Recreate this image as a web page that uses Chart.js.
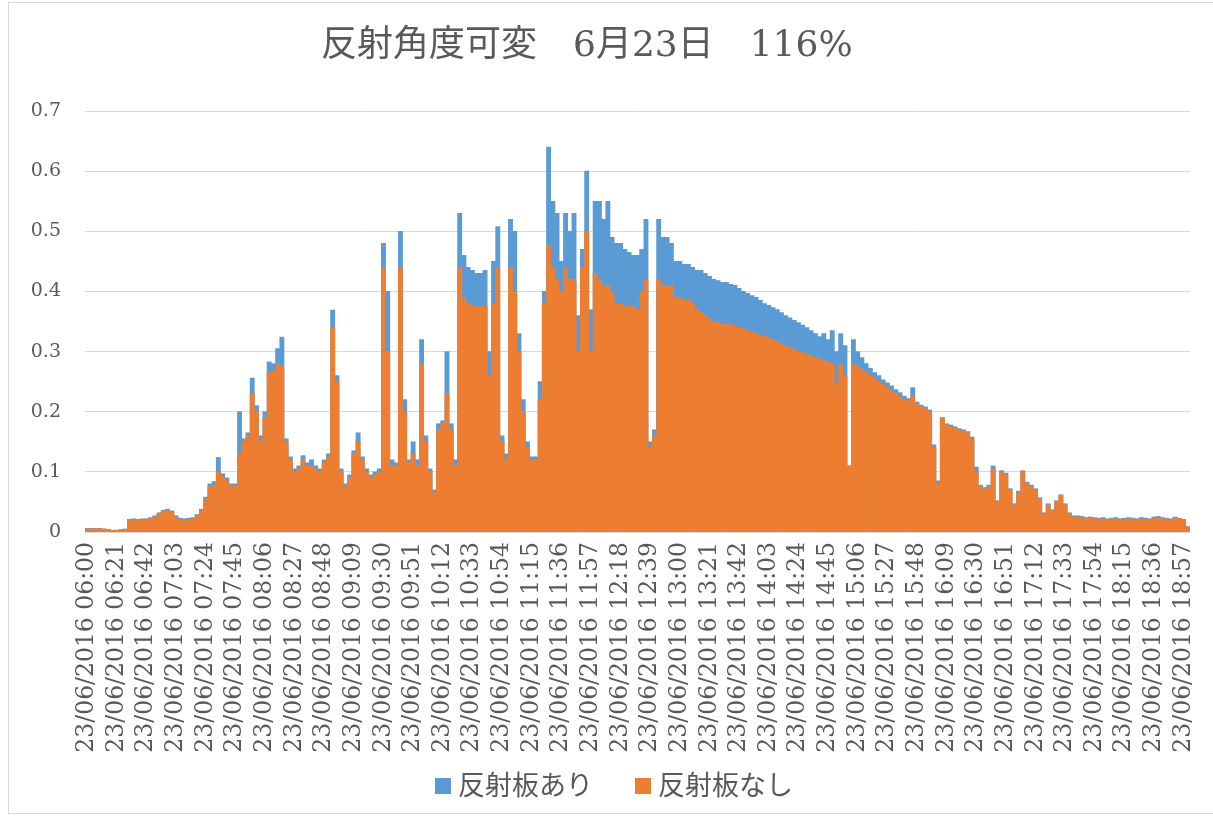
<!DOCTYPE html>
<html lang="ja">
  <head>
    <meta charset="UTF-8" />
    <title>反射角度可変 6月23日</title>
    <script src="https://cdn.jsdelivr.net/npm/chart.js@4"></script>
    <style>
      body {
        margin: 0;
        background: #fff;
        overflow: hidden;
      }
      .wrap {
        position: relative;
        width: 1213px;
        height: 819px;
      }
      .frame {
        position: absolute;
        left: 8px;
        top: 2px;
        width: 1220px;
        height: 812px;
        border: 1px solid #d9d9d9;
        box-sizing: border-box;
      }
      .title {
        position: absolute;
        left: 321px;
        top: 26px;
        font-family: "DejaVu Serif", "Noto Sans CJK JP", serif;
        font-size: 36px;
        line-height: 36px;
        color: #595959;
        white-space: pre;
      }
      .legend {
        position: absolute;
        left: 435px;
        top: 769px;
        display: flex;
        align-items: center;
        font-family: "Noto Sans CJK JP", sans-serif;
        font-size: 27px;
        line-height: 30px;
        color: #595959;
      }
      .legend .item {
        display: flex;
        align-items: center;
        margin-right: 42px;
      }
      .legend .swatch {
        display: inline-block;
        width: 16px;
        height: 16px;
        margin-right: 7px;
        margin-top: 3px;
      }
      canvas {
        position: absolute;
        left: 0;
        top: 0;
      }
    </style>
  </head>
  <body>
    <div class="wrap">
      <div class="frame"></div>
      <canvas id="reflectChart" width="1213" height="819"></canvas>
      <div class="title">反射角度可変　6月23日　116%</div>
      <div class="legend" id="legend"></div>
    </div>

    <script>
      // 3-minute samples from 06:00 to 19:00
      const dateLabel = "23/06/2016";
      const startMinute = 6 * 60;
      const stepMinutes = 3;
      const tickEvery = 7; // a time label every 21 minutes

      // 反射板あり (with reflector)
      const withReflector = [
        0.006, 0.006, 0.006, 0.006, 0.005, 0.004, 0.003, 0.003, 0.004, 0.005, // 06:00
        0.021, 0.022, 0.021, 0.022, 0.022, 0.024, 0.027, 0.032, 0.036, 0.038, // 06:30
        0.035, 0.027, 0.023, 0.022, 0.023, 0.024, 0.029, 0.038, 0.058, 0.080, // 07:00
        0.084, 0.124, 0.097, 0.090, 0.080, 0.080, 0.200, 0.155, 0.165, 0.256, // 07:30
        0.210, 0.160, 0.200, 0.283, 0.280, 0.305, 0.324, 0.155, 0.125, 0.105, // 08:00
        0.110, 0.127, 0.115, 0.120, 0.110, 0.105, 0.120, 0.130, 0.369, 0.260, // 08:30
        0.105, 0.080, 0.095, 0.135, 0.165, 0.125, 0.105, 0.095, 0.100, 0.105, // 09:00
        0.480, 0.400, 0.120, 0.115, 0.500, 0.220, 0.120, 0.150, 0.120, 0.320, // 09:30
        0.160, 0.105, 0.070, 0.180, 0.185, 0.300, 0.180, 0.120, 0.530, 0.460, // 10:00
        0.440, 0.435, 0.430, 0.430, 0.435, 0.300, 0.450, 0.508, 0.160, 0.130, // 10:30
        0.520, 0.500, 0.330, 0.220, 0.150, 0.125, 0.125, 0.250, 0.400, 0.640, // 11:00
        0.550, 0.530, 0.450, 0.530, 0.500, 0.530, 0.360, 0.470, 0.600, 0.370, // 11:30
        0.550, 0.550, 0.520, 0.550, 0.490, 0.480, 0.480, 0.470, 0.465, 0.460, // 12:00
        0.460, 0.470, 0.520, 0.150, 0.170, 0.520, 0.490, 0.490, 0.480, 0.450, // 12:30
        0.450, 0.445, 0.445, 0.440, 0.435, 0.435, 0.430, 0.425, 0.420, 0.418, // 13:00
        0.415, 0.415, 0.412, 0.410, 0.405, 0.400, 0.397, 0.393, 0.390, 0.385, // 13:30
        0.380, 0.377, 0.373, 0.370, 0.365, 0.360, 0.356, 0.352, 0.348, 0.344, // 14:00
        0.340, 0.335, 0.330, 0.325, 0.330, 0.320, 0.335, 0.300, 0.330, 0.310, // 14:30
        0.110, 0.320, 0.300, 0.290, 0.280, 0.272, 0.265, 0.260, 0.253, 0.248, // 15:00
        0.243, 0.237, 0.232, 0.226, 0.222, 0.240, 0.216, 0.211, 0.208, 0.203, // 15:30
        0.145, 0.085, 0.190, 0.180, 0.178, 0.175, 0.172, 0.170, 0.167, 0.158, // 16:00
        0.108, 0.078, 0.074, 0.078, 0.110, 0.052, 0.102, 0.098, 0.072, 0.047, // 16:30
        0.068, 0.102, 0.083, 0.078, 0.072, 0.057, 0.032, 0.047, 0.037, 0.052, // 17:00
        0.062, 0.047, 0.032, 0.027, 0.027, 0.026, 0.024, 0.025, 0.024, 0.023, // 17:30
        0.024, 0.022, 0.023, 0.024, 0.022, 0.023, 0.024, 0.023, 0.022, 0.024, // 18:00
        0.023, 0.022, 0.025, 0.026, 0.024, 0.023, 0.022, 0.025, 0.023, 0.021, // 18:30
        0.009 // 19:00
      ];

      // 反射板なし (without reflector)
      const withoutReflector = [
        0.005, 0.005, 0.006, 0.005, 0.005, 0.004, 0.003, 0.003, 0.004, 0.004, // 06:00
        0.019, 0.020, 0.019, 0.020, 0.020, 0.022, 0.025, 0.030, 0.034, 0.036, // 06:30
        0.033, 0.025, 0.021, 0.020, 0.021, 0.022, 0.027, 0.036, 0.055, 0.075, // 07:00
        0.078, 0.100, 0.092, 0.085, 0.076, 0.077, 0.130, 0.150, 0.160, 0.230, // 07:30
        0.200, 0.150, 0.190, 0.265, 0.268, 0.280, 0.275, 0.150, 0.120, 0.100, // 08:00
        0.105, 0.120, 0.110, 0.110, 0.105, 0.100, 0.115, 0.125, 0.340, 0.250, // 08:30
        0.100, 0.075, 0.090, 0.130, 0.150, 0.120, 0.100, 0.090, 0.095, 0.100, // 09:00
        0.440, 0.300, 0.110, 0.110, 0.440, 0.200, 0.115, 0.130, 0.110, 0.280, // 09:30
        0.150, 0.100, 0.065, 0.170, 0.180, 0.230, 0.170, 0.110, 0.440, 0.390, // 10:00
        0.380, 0.375, 0.375, 0.375, 0.375, 0.260, 0.380, 0.440, 0.150, 0.120, // 10:30
        0.440, 0.400, 0.300, 0.200, 0.140, 0.120, 0.120, 0.220, 0.380, 0.475, // 11:00
        0.440, 0.420, 0.400, 0.440, 0.420, 0.420, 0.300, 0.440, 0.500, 0.300, // 11:30
        0.430, 0.420, 0.410, 0.410, 0.400, 0.380, 0.380, 0.375, 0.375, 0.375, // 12:00
        0.370, 0.400, 0.420, 0.140, 0.160, 0.420, 0.410, 0.410, 0.410, 0.390, // 12:30
        0.390, 0.385, 0.385, 0.380, 0.370, 0.365, 0.360, 0.355, 0.350, 0.348, // 13:00
        0.345, 0.345, 0.345, 0.342, 0.340, 0.338, 0.335, 0.332, 0.330, 0.328, // 13:30
        0.325, 0.322, 0.320, 0.317, 0.313, 0.310, 0.307, 0.304, 0.300, 0.298, // 14:00
        0.295, 0.293, 0.290, 0.288, 0.285, 0.282, 0.280, 0.245, 0.278, 0.260, // 14:30
        0.110, 0.280, 0.275, 0.270, 0.265, 0.260, 0.255, 0.250, 0.245, 0.240, // 15:00
        0.235, 0.230, 0.225, 0.220, 0.218, 0.225, 0.212, 0.208, 0.205, 0.200, // 15:30
        0.140, 0.080, 0.190, 0.178, 0.175, 0.172, 0.170, 0.168, 0.165, 0.155, // 16:00
        0.100, 0.075, 0.070, 0.075, 0.105, 0.050, 0.100, 0.095, 0.070, 0.045, // 16:30
        0.065, 0.100, 0.080, 0.075, 0.070, 0.055, 0.030, 0.045, 0.035, 0.050, // 17:00
        0.060, 0.045, 0.030, 0.025, 0.025, 0.024, 0.022, 0.023, 0.022, 0.021, // 17:30
        0.022, 0.020, 0.021, 0.022, 0.020, 0.021, 0.022, 0.021, 0.020, 0.022, // 18:00
        0.021, 0.020, 0.023, 0.024, 0.022, 0.021, 0.020, 0.024, 0.022, 0.020, // 18:30
        0.008 // 19:00
      ];

      const yMax = 0.7;
      const yStep = 0.1;

      const pad2 = (n) => String(n).padStart(2, "0");
      const timeLabels = withReflector.map((_, i) => {
        const m = startMinute + i * stepMinutes;
        return dateLabel + " " + pad2(Math.floor(m / 60)) + ":" + pad2(m % 60);
      });

      Chart.defaults.font.family = "'DejaVu Serif', 'Noto Sans CJK JP', serif";
      Chart.defaults.color = "#595959";

      const ctx = document.getElementById("reflectChart").getContext("2d");
      const chart = new Chart(ctx, {
        type: "bar",
        data: {
          labels: timeLabels,
          datasets: [
            {
              label: "反射板あり",
              data: withReflector,
              backgroundColor: "#5b9bd5",
              order: 2, // drawn behind
            },
            {
              label: "反射板なし",
              data: withoutReflector,
              backgroundColor: "#ed7d31",
              order: 1,
            },
          ],
        },
        options: {
          responsive: false,
          animation: false,
          layout: {
            padding: { left: 0, right: 23, top: 111, bottom: 0 },
          },
          datasets: {
            bar: {
              grouped: false,
              barPercentage: 1,
              categoryPercentage: 1,
              borderWidth: 0,
            },
          },
          plugins: {
            title: { display: false },
            tooltip: { enabled: false },
            legend: { display: false },
          },
          scales: {
            x: {
              grid: { display: false, drawTicks: false },
              border: { display: true, color: "#d9d9d9", width: 1 },
              ticks: {
                autoSkip: false,
                minRotation: 90,
                maxRotation: 90,
                padding: 10,
                font: { size: 23.5 },
                callback: function (value, index) {
                  return index % tickEvery === 0 ? timeLabels[index] : "";
                },
              },
              afterFit: (scale) => {
                scale.height = 287;
                scale.paddingLeft = 0;
                scale.paddingRight = 0;
              },
            },
            y: {
              min: 0,
              max: yMax,
              grid: { color: "#d9d9d9", lineWidth: 1, drawTicks: false },
              border: { display: false },
              ticks: {
                stepSize: yStep,
                padding: 24,
                font: { size: 19 },
                callback: (v) => (v === 0 ? "0" : v.toFixed(1)),
              },
              afterFit: (scale) => {
                scale.width = 85;
              },
            },
          },
        },
      });

      // legend built from the datasets, in dataset order
      const legendEl = document.getElementById("legend");
      chart.data.datasets.forEach((ds) => {
        const item = document.createElement("span");
        item.className = "item";
        const swatch = document.createElement("span");
        swatch.className = "swatch";
        swatch.style.background = ds.backgroundColor;
        const text = document.createElement("span");
        text.textContent = ds.label;
        item.appendChild(swatch);
        item.appendChild(text);
        legendEl.appendChild(item);
      });
    </script>
  </body>
</html>
